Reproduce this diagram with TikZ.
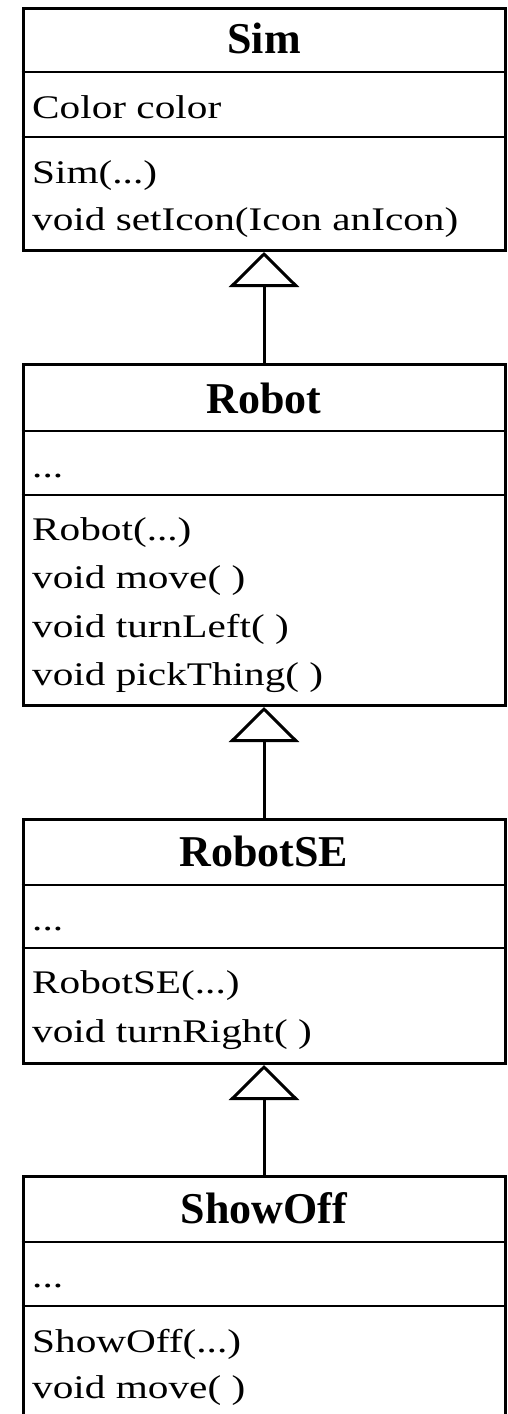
\documentclass[tikz,border=0pt]{standalone}
\usepackage{fontspec}
\setmainfont{Liberation Serif}
\newfontfamily\bodyfont{Liberation Serif}[FakeStretch=1.25]
\usetikzlibrary{arrows.meta}
\begin{document}
\begin{tikzpicture}[x=1pt,y=-1pt,
  classbox/.style={draw, line width=3pt, minimum width=482pt, inner sep=0pt, anchor=north},
  divider/.style={line width=2pt},
  titletext/.style={anchor=base, inner sep=0pt, font=\fontsize{44}{50}\selectfont\bfseries},
  membertext/.style={anchor=base west, inner sep=0pt, font=\bodyfont\fontsize{33}{47}\selectfont},
  inherit/.style={line width=3pt, -{Triangle[open, length=35pt, width=70pt]}}
]
\fill[white] (0,0) rectangle (508,1414);
\useasboundingbox (0,0) rectangle (508,1414);
\clip (0,0) rectangle (508,1414);

% Sim
\node[classbox, minimum height=242pt] (sim) at (264,7) {};
\node[titletext] (simT) at (264,53) {Sim};
\draw[divider] (sim.west |- 0,72) -- (sim.east |- 0,72);
\node[membertext] (simA) at (32,118) {Color color};
\draw[divider] (sim.west |- 0,137) -- (sim.east |- 0,137);
\node[membertext] (simM1) at (32,183) {Sim(...)};
\node[membertext] (simM2) at (32,230) {void setIcon(Icon anIcon)};

% Robot
\node[classbox, minimum height=341pt] (robot) at (264,363) {};
\node[titletext] (robotT) at (264,413) {Robot};
\draw[divider] (robot.west |- 0,431) -- (robot.east |- 0,431);
\node[membertext] (robotA) at (32,477) {...};
\draw[divider] (robot.west |- 0,495) -- (robot.east |- 0,495);
\node[membertext] (robotM1) at (32,540) {Robot(...)};
\node[membertext] (robotM2) at (32,588) {void move( )};
\node[membertext] (robotM3) at (32,637) {void turnLeft( )};
\node[membertext] (robotM4) at (32,685) {void pickThing( )};

% RobotSE
\node[classbox, minimum height=244pt] (robotse) at (264,818) {};
\node[titletext] (robotseT) at (264,866) {RobotSE};
\draw[divider] (robotse.west |- 0,885) -- (robotse.east |- 0,885);
\node[membertext] (robotseA) at (32,930) {...};
\draw[divider] (robotse.west |- 0,948) -- (robotse.east |- 0,948);
\node[membertext] (robotseM1) at (32,993) {RobotSE(...)};
\node[membertext] (robotseM2) at (32,1042) {void turnRight( )};

% ShowOff
\node[classbox, minimum height=270pt] (showoff) at (264,1175) {};
\node[titletext] (showoffT) at (264,1223) {ShowOff};
\draw[divider] (showoff.west |- 0,1242) -- (showoff.east |- 0,1242);
\node[membertext] (showoffA) at (32,1287) {...};
\draw[divider] (showoff.west |- 0,1306) -- (showoff.east |- 0,1306);
\node[membertext] (showoffM1) at (32,1352) {ShowOff(...)};
\node[membertext] (showoffM2) at (32,1398) {void move( )};

% generalisations
\draw[inherit] (robot.north) -- (sim.south);
\draw[inherit] (robotse.north) -- (robot.south);
\draw[inherit] (showoff.north) -- (robotse.south);
\end{tikzpicture}
\end{document}
